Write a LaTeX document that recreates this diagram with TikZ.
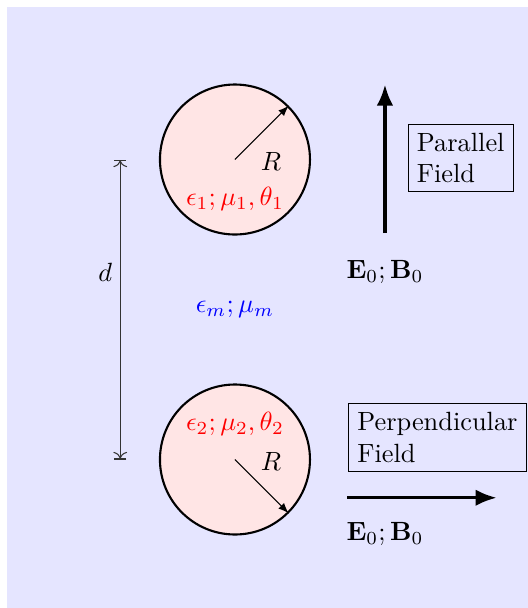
\documentclass[tikz,border=0pt]{standalone}
\usetikzlibrary{arrows.meta}
\begin{document}
\begin{tikzpicture}[
  sphere/.style={circle, draw, thick, fill=red!10, minimum size=2cm, inner sep=0pt},
  radius/.style={-latex},
  field/.style={-{Latex[length=2.8mm,width=2.2mm]}, line width=1.3pt},
  fieldbox/.style={draw, align=left},
  mat/.style={text=red}
]
\useasboundingbox (-3.133,4.127) rectangle (3.907,-3.98);
\fill[blue!10] (-3.04,4.033) rectangle (3.907,-3.98);
% spheres
\node[sphere] (s1) at (0,2) {};
\node[sphere] (s2) at (0,-2) {};
\coordinate (c1) at (0,2);
\coordinate (c2) at (0,-2);
\draw[radius] (c1) -- (s1.45);
\draw[radius] (c2) -- (s2.-45);
\node (r1) at (0.48,1.97) {$R$};
\node (r2) at (0.48,-2.03) {$R$};
\node[mat] (m1) at (0,1.48) {$\epsilon_1;\mu_1,\theta_1$};
\node[mat] (m2) at (0,-1.52) {$\epsilon_2;\mu_2,\theta_2$};
\node[text=blue] (mm) at (0,0) {$\epsilon_m;\mu_m$};
% distance
\coordinate (d1) at (-1.53,2);
\coordinate (d2) at (-1.53,-2);
\draw[|<->|, black!80] (d1) -- (d2);
\node (d) at (-1.73,0.5) {$d$};
% parallel field
\coordinate (p1) at (2,1.02);
\coordinate (p2) at (2,3);
\draw[field] (p1) -- (p2);
\node (e1) at (2,0.5) {$\mathbf{E}_0;\mathbf{B}_0$};
\node[fieldbox] (pf) at (3.01,2.02) {Parallel\\Field};
% perpendicular field
\coordinate (q1) at (1.5,-2.51);
\coordinate (q2) at (3.49,-2.51);
\draw[field] (q1) -- (q2);
\node (e2) at (2,-3) {$\mathbf{E}_0;\mathbf{B}_0$};
\node[fieldbox] (qf) at (2.7,-1.71) {Perpendicular\\Field};
\end{tikzpicture}
\end{document}
